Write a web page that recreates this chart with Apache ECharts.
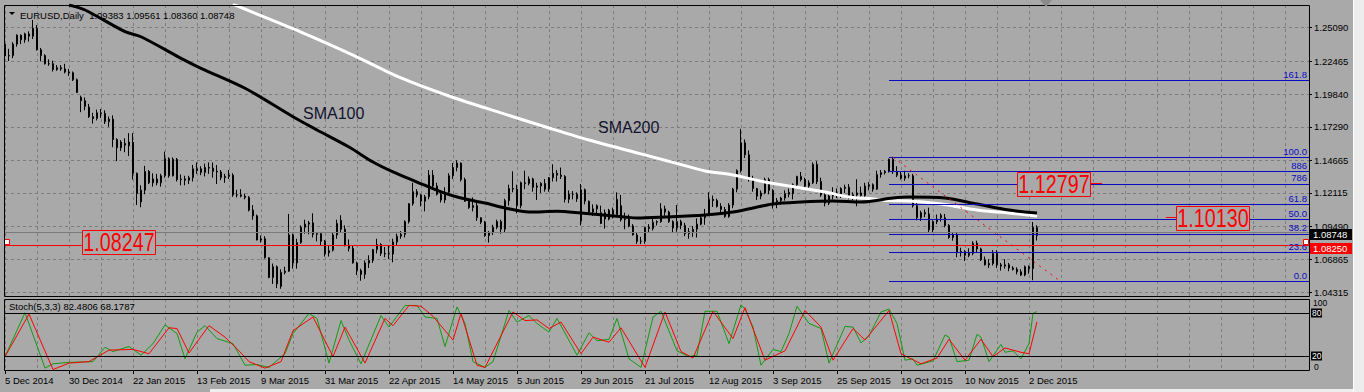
<!DOCTYPE html>
<html><head><meta charset="utf-8">
<script src="https://cdn.jsdelivr.net/npm/echarts@6/dist/echarts.min.js"></script>
<style>html,body{margin:0;padding:0;background:#a9a9a9;overflow:hidden}#c{width:1364px;height:392px}</style>
</head><body><div id="c"></div>
<script>
// ---------------- DATA ----------------
const START_DATE = '2014-12-05';
const HOLIDAYS = ['2014-12-25', '2015-01-01'];
const SLOT_COUNT = 327;            // trading-day slots across the chart (incl. empty right shift)
const MONTHS = ['Jan','Feb','Mar','Apr','May','Jun','Jul','Aug','Sep','Oct','Nov','Dec'];

function buildCategories() {
  const out = [];
  const d = new Date(START_DATE + 'T00:00:00Z');
  while (out.length < SLOT_COUNT) {
    const wd = d.getUTCDay();
    const s = d.toISOString().slice(0, 10);
    if (wd !== 0 && wd !== 6 && HOLIDAYS.indexOf(s) < 0) out.push(s);
    d.setUTCDate(d.getUTCDate() + 1);
  }
  return out;
}
const categories = buildCategories();

const priceTicks = [1.04315, 1.06865, 1.09490, 1.12115, 1.14665, 1.17290, 1.19840, 1.22465, 1.25090];

// daily candles: [open, close, low, high]
const candles = [
[1.2379,1.2288,1.2269,1.2390],[1.2288,1.2290,1.2247,1.2343],[1.2290,1.2380,1.2270,1.2395],[1.2380,1.2450,1.2360,1.2457],
[1.2450,1.2414,1.2380,1.2456],[1.2414,1.2460,1.2390,1.2470],[1.2460,1.2442,1.2400,1.2480],[1.2442,1.2505,1.2420,1.2570],
[1.2505,1.2335,1.2330,1.2530],[1.2335,1.2290,1.2245,1.2350],[1.2290,1.2225,1.2220,1.2300],[1.2225,1.2226,1.2210,1.2260],
[1.2226,1.2180,1.2165,1.2250],[1.2180,1.2195,1.2170,1.2215],[1.2195,1.2185,1.2170,1.2215],[1.2185,1.2160,1.2150,1.2225],
[1.2160,1.2155,1.2130,1.2185],[1.2155,1.2100,1.2090,1.2165],[1.2100,1.2000,1.1995,1.2110],[1.1962,1.1935,1.1845,1.1975],
[1.1935,1.1890,1.1860,1.1960],[1.1885,1.1810,1.1800,1.1910],[1.1810,1.1795,1.1755,1.1840],[1.1795,1.1840,1.1780,1.1865],
[1.1840,1.1835,1.1800,1.1870],[1.1835,1.1770,1.1752,1.1860],[1.1770,1.1790,1.1730,1.1810],[1.1790,1.1630,1.1570,1.1820],
[1.1630,1.1565,1.1460,1.1640],[1.1565,1.1610,1.1540,1.1625],[1.1585,1.1600,1.1530,1.1640],[1.1580,1.1610,1.1500,1.1680],
[1.1610,1.1365,1.1315,1.1680],[1.1365,1.1205,1.1115,1.1370],[1.1140,1.1232,1.1098,1.1270],[1.1232,1.1380,1.1200,1.1423],
[1.1380,1.1290,1.1280,1.1390],[1.1290,1.1320,1.1260,1.1365],[1.1320,1.1290,1.1270,1.1360],[1.1290,1.1345,1.1260,1.1360],
[1.1345,1.1480,1.1330,1.1535],[1.1480,1.1345,1.1330,1.1490],[1.1345,1.1475,1.1340,1.1490],[1.1475,1.1315,1.1300,1.1485],
[1.1315,1.1320,1.1270,1.1355],[1.1320,1.1310,1.1270,1.1345],[1.1310,1.1330,1.1280,1.1345],[1.1330,1.1400,1.1300,1.1430],
[1.1400,1.1385,1.1360,1.1450],[1.1400,1.1372,1.1350,1.1420],[1.1372,1.1410,1.1340,1.1440],[1.1410,1.1405,1.1360,1.1450],
[1.1405,1.1380,1.1330,1.1450],[1.1380,1.1375,1.1280,1.1430],[1.1375,1.1330,1.1310,1.1390],[1.1330,1.1340,1.1290,1.1360],
[1.1340,1.1350,1.1320,1.1390],[1.1350,1.1195,1.1180,1.1365],[1.1195,1.1195,1.1175,1.1235],[1.1195,1.1185,1.1175,1.1240],
[1.1185,1.1175,1.1160,1.1205],[1.1175,1.1075,1.1065,1.1185],[1.1075,1.1030,1.1000,1.1115],[1.1030,1.0840,1.0838,1.1040],
[1.0840,1.0850,1.0820,1.0875],[1.0850,1.0700,1.0695,1.0870],[1.0700,1.0545,1.0540,1.0705],[1.0545,1.0630,1.0495,1.0655],
[1.0630,1.0495,1.0462,1.0640],[1.0475,1.0585,1.0457,1.0610],[1.0585,1.0595,1.0570,1.0630],[1.0595,1.0880,1.0590,1.1045],
[1.0880,1.0660,1.0615,1.0890],[1.0660,1.0820,1.0615,1.0850],[1.0820,1.0940,1.0810,1.0955],[1.0940,1.0965,1.0890,1.1000],
[1.0965,1.0975,1.0885,1.0990],[1.0975,1.0885,1.0860,1.1050],[1.0885,1.0890,1.0830,1.0900],[1.0890,1.0830,1.0800,1.0900],
[1.0830,1.0730,1.0710,1.0840],[1.0755,1.0740,1.0710,1.0800],[1.0760,1.0880,1.0750,1.0900],[1.0880,1.0970,1.0850,1.1000],
[1.0995,1.0925,1.0900,1.1035],[1.0925,1.0800,1.0790,1.0955],[1.0800,1.0775,1.0750,1.0845],[1.0775,1.0660,1.0655,1.0800],
[1.0660,1.0600,1.0565,1.0670],[1.0600,1.0570,1.0520,1.0615],[1.0570,1.0660,1.0535,1.0680],[1.0660,1.0680,1.0620,1.0720],
[1.0680,1.0765,1.0660,1.0770],[1.0765,1.0805,1.0735,1.0850],[1.0805,1.0735,1.0715,1.0815],[1.0735,1.0730,1.0705,1.0785],
[1.0730,1.0730,1.0690,1.0795],[1.0730,1.0825,1.0665,1.0850],[1.0825,1.0870,1.0800,1.0890],[1.0870,1.0885,1.0850,1.0910],
[1.0885,1.0985,1.0860,1.0995],[1.0985,1.1125,1.0970,1.1130],[1.1125,1.1220,1.1110,1.1290],[1.1220,1.1195,1.1175,1.1240],
[1.1195,1.1145,1.1105,1.1200],[1.1145,1.1180,1.1065,1.1195],[1.1180,1.1350,1.1160,1.1390],[1.1350,1.1265,1.1240,1.1390],
[1.1265,1.1200,1.1190,1.1290],[1.1200,1.1155,1.1135,1.1230],[1.1155,1.1215,1.1130,1.1255],[1.1215,1.1345,1.1200,1.1365],
[1.1345,1.1410,1.1320,1.1445],[1.1410,1.1445,1.1380,1.1467],[1.1445,1.1315,1.1300,1.1450],[1.1315,1.1145,1.1140,1.1330],
[1.1145,1.1095,1.1085,1.1160],[1.1095,1.1110,1.1065,1.1175],[1.1110,1.1015,1.0990,1.1140],[1.1015,1.0980,1.0965,1.1020],
[1.0980,1.0875,1.0865,1.0990],[1.0875,1.0900,1.0820,1.0910],[1.0900,1.0940,1.0880,1.0960],[1.0940,1.0985,1.0925,1.1000],
[1.0985,1.0925,1.0890,1.1000],[1.0925,1.1150,1.0900,1.1165],[1.1150,1.1245,1.1110,1.1275],[1.1245,1.1240,1.1215,1.1380],
[1.1240,1.1110,1.1050,1.1275],[1.1110,1.1290,1.1090,1.1300],[1.1290,1.1285,1.1240,1.1385],[1.1285,1.1320,1.1270,1.1340],
[1.1320,1.1255,1.1220,1.1330],[1.1255,1.1265,1.1155,1.1290],[1.1265,1.1285,1.1210,1.1295],[1.1285,1.1240,1.1220,1.1320],
[1.1240,1.1330,1.1220,1.1335],[1.1330,1.1365,1.1300,1.1435],[1.1365,1.1350,1.1300,1.1390],[1.1340,1.1350,1.1320,1.1410],
[1.1340,1.1160,1.1135,1.1350],[1.1160,1.1200,1.1130,1.1230],[1.1200,1.1200,1.1160,1.1225],[1.1200,1.1165,1.1140,1.1215],
[1.0990,1.1235,1.0955,1.1280],[1.1235,1.1145,1.1120,1.1245],[1.1145,1.1060,1.1040,1.1150],[1.1060,1.1085,1.1030,1.1120],
[1.1085,1.1110,1.1050,1.1120],[1.0970,1.1055,1.0965,1.1110],[1.1055,1.1005,1.0930,1.1080],[1.1005,1.1075,1.0995,1.1085],
[1.1075,1.1040,1.1010,1.1095],[1.1040,1.1160,1.1030,1.1215],[1.1110,1.1000,1.0985,1.1195],[1.1000,1.1005,1.0925,1.1055],
[1.1005,1.0950,1.0940,1.1040],[1.0950,1.0880,1.0875,1.0965],[1.0880,1.0830,1.0810,1.0900],[1.0830,1.0830,1.0808,1.0865],
[1.0830,1.0940,1.0810,1.0945],[1.0940,1.0930,1.0900,1.0965],[1.0930,1.0980,1.0915,1.1005],[1.0980,1.0985,1.0955,1.0995],
[1.0985,1.1085,1.0975,1.1130],[1.1085,1.1060,1.1030,1.1110],[1.1060,1.0985,1.0975,1.1070],[1.0985,1.0935,1.0895,1.0995],
[1.0935,1.0985,1.0905,1.1115],[1.0985,1.0955,1.0925,1.1000],[1.0955,1.0890,1.0870,1.0975],[1.0890,1.0905,1.0850,1.0935],
[1.0905,1.0925,1.0865,1.0950],[1.0925,1.0965,1.0860,1.1010],[1.0965,1.1015,1.0955,1.1040],[1.1015,1.1040,1.0960,1.1085],
[1.1040,1.1160,1.1030,1.1215],[1.1160,1.1150,1.1100,1.1190],[1.1150,1.1105,1.1095,1.1165],[1.1105,1.1080,1.1055,1.1130],
[1.1080,1.1025,1.1015,1.1100],[1.1025,1.1115,1.1015,1.1130],[1.1115,1.1240,1.1090,1.1250],[1.1240,1.1385,1.1215,1.1395],
[1.1385,1.1605,1.1370,1.1714],[1.1605,1.1510,1.1485,1.1630],[1.1510,1.1315,1.1300,1.1545],[1.1315,1.1245,1.1220,1.1345],
[1.1245,1.1185,1.1155,1.1250],[1.1185,1.1210,1.1160,1.1230],[1.1210,1.1315,1.1200,1.1330],[1.1315,1.1230,1.1200,1.1330],
[1.1230,1.1120,1.1087,1.1240],[1.1120,1.1150,1.1090,1.1170],[1.1150,1.1170,1.1120,1.1180],[1.1170,1.1205,1.1150,1.1230],
[1.1215,1.1200,1.1175,1.1245],[1.1205,1.1275,1.1160,1.1285],[1.1275,1.1340,1.1250,1.1345],[1.1340,1.1315,1.1300,1.1375],
[1.1315,1.1265,1.1250,1.1330],[1.1265,1.1290,1.1240,1.1310],[1.1290,1.1435,1.1280,1.1450],[1.1435,1.1300,1.1280,1.1460],
[1.1300,1.1195,1.1180,1.1330],[1.1195,1.1130,1.1105,1.1215],[1.1130,1.1185,1.1115,1.1195],[1.1185,1.1210,1.1160,1.1255],
[1.1210,1.1195,1.1170,1.1245],[1.1195,1.1245,1.1170,1.1255],[1.1245,1.1255,1.1210,1.1275],[1.1255,1.1175,1.1160,1.1280],
[1.1175,1.1195,1.1150,1.1215],[1.1195,1.1210,1.1105,1.1318],[1.1210,1.1190,1.1180,1.1260],[1.1190,1.1265,1.1175,1.1290],
[1.1265,1.1275,1.1230,1.1295],[1.1275,1.1240,1.1220,1.1285],[1.1240,1.1355,1.1235,1.1385],[1.1355,1.1370,1.1330,1.1390],
[1.1370,1.1380,1.1355,1.1390],[1.1380,1.1475,1.1370,1.1480],[1.1475,1.1380,1.1360,1.1495],[1.1380,1.1350,1.1335,1.1420],
[1.1350,1.1325,1.1315,1.1375],[1.1325,1.1345,1.1305,1.1385],[1.1345,1.1345,1.1325,1.1365],[1.1345,1.1110,1.1095,1.1360],
[1.1110,1.1015,1.0995,1.1130],[1.1015,1.1055,1.0990,1.1070],[1.1055,1.1045,1.1020,1.1080],[1.1045,1.0920,1.0895,1.1095],
[1.0920,1.0985,1.0895,1.0995],[1.0985,1.1005,1.0965,1.1040],[1.1035,1.1015,1.0985,1.1050],[1.1015,1.0955,1.0940,1.1045],
[1.0955,1.0860,1.0850,1.0965],[1.0860,1.0880,1.0835,1.0895],[1.0880,1.0740,1.0705,1.0895],[1.0740,1.0750,1.0710,1.0780],
[1.0750,1.0720,1.0675,1.0760],[1.0720,1.0735,1.0705,1.0775],[1.0735,1.0815,1.0720,1.0830],[1.0815,1.0770,1.0740,1.0835],
[1.0770,1.0685,1.0675,1.0780],[1.0685,1.0645,1.0640,1.0710],[1.0645,1.0655,1.0620,1.0690],[1.0655,1.0735,1.0640,1.0760],
[1.0735,1.0645,1.0620,1.0760],[1.0645,1.0635,1.0600,1.0660],[1.0635,1.0645,1.0615,1.0690],[1.0645,1.0620,1.0595,1.0660],
[1.0620,1.0610,1.0600,1.0635],[1.0610,1.0590,1.0570,1.0625],[1.0590,1.0565,1.0558,1.0610],[1.0565,1.0630,1.0555,1.0640],
[1.0630,1.0615,1.0575,1.0640],[1.0615,1.0940,1.0524,1.0982],[1.09383,1.08748,1.08360,1.09561]
];

// moving averages: [bar index, price]
const sma100 = [[16,1.2687],[20,1.2648],[30,1.2478],[34,1.2438],[44,1.2268],[49,1.2190],[60,1.2033],[72,1.1809],[78,1.1705],
  [86,1.1571],[92,1.1453],[97,1.1375],[103,1.1296],[109,1.1218],[114,1.1170],[120,1.1131],[125,1.1092],[131,1.1060],[138,1.1066],
  [144,1.1052],[155,1.1021],[158,1.1013],[165,1.1021],[175,1.1037],[182,1.1060],[192,1.1123],[199,1.1139],[207,1.1147],[214,1.1139],
  [222,1.1170],[226,1.1178],[235,1.1170],[243,1.1123],[251,1.1076],[258,1.1052]];
const sma200 = [[57,1.2695],[58,1.2680],[74,1.2475],[87,1.2294],[99,1.2114],[111,1.1972],[124,1.1839],[136,1.1721],[146,1.1626],
  [159,1.1517],[170,1.1425],[175,1.1383],[182,1.1351],[190,1.1296],[199,1.1249],[205,1.1217],[211,1.1178],
  [217,1.1163],[221,1.1150],[226,1.1147],[234,1.1123],[243,1.1076],[251,1.1052],[258,1.1029]];

// Stochastic(5,3,3): [bar index, value]
const stochK = [[0,20],[5,81],[10,4],[12,10],[16,12],[22,13],[25,33],[27,27],[31,34],[34,22],[37,38],[40,64],[43,52],[45,17],[48,54],
  [50,63],[53,45],[57,38],[60,8],[63,9],[66,5],[70,24],[72,52],[76,80],[78,73],[81,11],[84,70],[86,43],[89,10],[94,77],[96,61],
  [100,91],[103,91],[105,75],[108,73],[110,34],[113,89],[115,66],[117,13],[120,5],[122,13],[126,84],[128,68],[131,77],[133,66],
  [136,54],[138,73],[143,22],[146,53],[148,42],[151,44],[153,73],[156,17],[159,5],[162,75],[164,83],[168,28],[171,20],[173,22],
  [175,83],[178,83],[181,38],[182,56],[184,92],[185,86],[187,61],[189,8],[192,30],[194,27],[196,52],[198,90],[201,66],[204,59],
  [206,11],[210,62],[212,61],[214,39],[216,49],[219,82],[221,86],[223,66],[225,15],[227,17],[228,8],[232,14],[235,50],[236,47],
  [238,13],[241,15],[243,51],[244,47],[246,13],[249,37],[250,26],[252,28],[254,17],[256,38],[257,80],[258,82.4806]];
const stochD = [[0,20],[6,79],[12,2],[16,11],[21,13],[26,29],[32,30],[36,24],[41,60],[43,59],[46,25],[51,63],[55,47],[58,31],[61,13],
  [65,4],[69,13],[72,56],[77,75],[82,20],[85,61],[90,11],[95,73],[97,63],[101,91],[104,90],[107,76],[112,43],[114,80],[118,8],
  [120,5],[127,82],[130,70],[133,71],[136,59],[139,68],[144,24],[147,47],[151,40],[154,60],[160,5],[165,82],[169,27],[172,18],
  [177,83],[182,45],[185,88],[190,15],[195,28],[200,84],[204,61],[207,15],[212,59],[215,43],[221,84],[224,24],[229,10],[233,18],
  [236,44],[240,15],[244,44],[247,20],[250,32],[254,26],[256,24],[258,68.1787]];

// Fibonacci retracement drawn from the October high
const fibNames  = ['0.0', '23.6', '38.2', '50.0', '61.8', '786', '886', '100.0', '161.8'];
const fibPrices = [1.0515, 1.0745, 1.0888, 1.1003, 1.1118, 1.1281, 1.1379, 1.1490, 1.2093];
const FIB_START = 221;
const fibTrend = [[222, 1.1490], [264, 1.0512]];

const hLinePrice = 1.08247;
const hLineAxisText = '1.08250';
const bidPrice = 1.08748;
const priceBoxes = [
  { text: '1.08247', at: 28.4, price: 1.08247 },
  { text: '1.12797', at: 262.3, price: 1.12797, stub: [271.5, 274.3] },
  { text: '1.10130', at: 301.9, price: 1.10130, stub: [290.2, 292.8] }
];
const smaLabels = [
  { text: 'SMA100', at: 74.5, price: 1.1831 },
  { text: 'SMA200', at: 148.25, price: 1.1728 }
];
const SYMBOL = 'EURUSD,Daily';
const STOCH_NAME = 'Stoch(5,3,3)';

// ---------------- STYLE ----------------
const BG = '#a9a9a9', GRID = '#7c7c7c', BULL = '#3cb44a', BEAR = '#dc143c', FIB = '#0b0bc0';
const FONT = '"Liberation Sans", Arial, sans-serif';
const Y_MIN = 1.03922, Y_MAX = 1.26874;
const LAST_BAR = candles.length - 1;

function fmtDate(s) {
  const [y, m, d] = s.split('-');
  return (+d) + ' ' + MONTHS[+m - 1] + ' ' + y;
}
const every8 = (i) => i % 8 === 0;
const labelIdx = (i) => i % 16 === 0 && i <= LAST_BAR;

const chart = echarts.init(document.getElementById('c'), null, { renderer: 'svg', width: 1364, height: 392 });

const option = {
  backgroundColor: BG,
  animation: false,
  grid: [
    { left: 5, top: 5, width: 1304, height: 292 },
    { left: 5, top: 299, width: 1304, height: 72 }
  ],
  xAxis: [
    { type: 'category', gridIndex: 0, data: categories, boundaryGap: false,
      axisLine: { show: false }, axisTick: { show: false }, axisLabel: { show: false },
      splitLine: { show: true, interval: every8, lineStyle: { color: GRID, type: [3, 3], width: 1 } } },
    { type: 'category', gridIndex: 1, data: categories, boundaryGap: false,
      axisLine: { show: false },
      axisTick: { show: true, interval: labelIdx, length: 3, lineStyle: { color: '#000' } },
      axisLabel: { show: true, interval: labelIdx, formatter: fmtDate, align: 'left', margin: 4,
        fontSize: 9.5, fontFamily: FONT, color: '#000' },
      splitLine: { show: true, interval: every8, lineStyle: { color: GRID, type: [3, 3], width: 1 } } }
  ],
  yAxis: [
    { type: 'value', gridIndex: 0, position: 'right', min: Y_MIN, max: Y_MAX,
      axisLine: { show: false },
      axisTick: { show: true, length: 3, customValues: priceTicks, lineStyle: { color: '#000' } },
      axisLabel: { show: true, customValues: priceTicks, formatter: (v) => v.toFixed(5), margin: 5,
        fontSize: 9.5, fontFamily: FONT, color: '#000' },
      splitLine: { show: true, lineStyle: { color: GRID, type: [3, 3], width: 1 } } },
    { type: 'value', gridIndex: 1, position: 'right', min: 0, max: 100,
      axisLine: { show: false }, axisTick: { show: false }, axisLabel: { show: false }, splitLine: { show: false } }
  ],
  series: [
    { // objects behind the candles
      type: 'line', xAxisIndex: 0, yAxisIndex: 0, data: [], z: 1, silent: true,
      markLine: {
        silent: true, symbol: ['none', 'none'], animation: false,
        data: [
          ...fibPrices.map((p, k) => [
            { coord: [FIB_START, p], name: fibNames[k],
              lineStyle: { color: FIB, width: 1, type: 'solid' },
              label: { show: true, position: 'insideEndTop', formatter: '{b}', color: FIB, fontSize: 9.5, fontFamily: FONT, distance: [2, 1] } },
            { coord: [SLOT_COUNT - 1, p] }
          ]),
          [ { coord: fibTrend[0], lineStyle: { color: '#ff0000', width: 1, type: [2, 5] }, label: { show: false } },
            { coord: fibTrend[1] } ],
          { yAxis: bidPrice, lineStyle: { color: '#7a7a7a', width: 1, type: 'solid' }, label: { show: false } },
          { yAxis: hLinePrice, lineStyle: { color: '#ff0000', width: 1, type: 'solid' }, label: { show: false } }
        ]
      }
    },
    {
      type: 'candlestick', xAxisIndex: 0, yAxisIndex: 0, data: candles, barWidth: 2, z: 2,
      itemStyle: { color: BULL, color0: BEAR, borderColor: '#000', borderColor0: '#000', borderColorDoji: '#000', borderWidth: 1 }
    },
    {
      type: 'line', xAxisIndex: 0, yAxisIndex: 0, data: sma200, symbol: 'none', smooth: 0.3, z: 3,
      lineStyle: { color: '#ffffff', width: 3 }
    },
    {
      type: 'line', xAxisIndex: 0, yAxisIndex: 0, data: sma100, symbol: 'none', smooth: 0.3, z: 4,
      lineStyle: { color: '#000000', width: 3 }
    },
    {
      type: 'line', xAxisIndex: 1, yAxisIndex: 1, data: stochK, symbol: 'none', z: 3,
      lineStyle: { color: '#109c10', width: 1 },
      markLine: { silent: true, symbol: ['none', 'none'], label: { show: false },
        lineStyle: { color: '#000', width: 1, type: 'solid' },
        data: [{ yAxis: 80 }, { yAxis: 20 }] }
    },
    {
      type: 'line', xAxisIndex: 1, yAxisIndex: 1, data: stochD, symbol: 'none', z: 4,
      lineStyle: { color: '#ff0000', width: 1 }
    }
  ]
};
chart.setOption(option);

// ---------------- annotations positioned from data ----------------
const x0 = chart.convertToPixel({ gridIndex: 0 }, [0, Y_MIN])[0];
const step = chart.convertToPixel({ gridIndex: 0 }, [1, Y_MIN])[0] - x0;
function px(i, price, g) {
  const b = Math.floor(i);
  const pt = chart.convertToPixel({ gridIndex: g || 0 }, [b, price]);
  return [pt[0] + (i - b) * step, pt[1]];
}
const crisp = (v) => Math.round(v) + 0.5;
const G = [];

// window chrome
G.push({ type: 'rect', shape: { x: 1353, y: 0, width: 11, height: 392 }, style: { fill: '#ededed' }, z: 60 });
G.push({ type: 'line', shape: { x1: 1353.5, y1: 0, x2: 1353.5, y2: 392 }, style: { stroke: '#ffffff', lineWidth: 1 }, z: 61 });
G.push({ type: 'rect', shape: { x: 210, y: 389, width: 1143, height: 3 }, style: { fill: '#eeeeee' }, z: 60 });
G.push({ type: 'polygon', shape: { points: [[1040, 0], [1052, 0], [1046, 7]] }, style: { fill: '#8a8a8a' }, z: 60 });

// frames
G.push({ type: 'rect', shape: { x: 4.5, y: 5.5, width: 1305, height: 291 }, style: { fill: 'none', stroke: '#000', lineWidth: 1 }, z: 50 });
G.push({ type: 'rect', shape: { x: 4.5, y: 299.5, width: 1305, height: 71 }, style: { fill: 'none', stroke: '#000', lineWidth: 1 }, z: 50 });

// header
const last = candles[LAST_BAR];
G.push({ type: 'polygon', shape: { points: [[9, 12], [15, 12], [12, 15]] }, style: { fill: '#000' }, z: 50 });
G.push({ type: 'text', x: 20, y: 15, z: 50, style: {
  text: SYMBOL + '  ' + [last[0], last[3], last[2], last[1]].map(v => v.toFixed(5)).join(' '),
  font: '9.5px ' + FONT, fill: '#000', align: 'left', verticalAlign: 'middle' } });
// stochastic caption
G.push({ type: 'text', x: 9, y: 306, z: 50, style: {
  text: STOCH_NAME + ' ' + stochK[stochK.length - 1][1].toFixed(4) + ' ' + stochD[stochD.length - 1][1].toFixed(4),
  font: '9.5px ' + FONT, fill: '#000', align: 'left', verticalAlign: 'middle' } });

// SMA labels
smaLabels.forEach(s => {
  const p = px(s.at, s.price);
  G.push({ type: 'text', x: p[0], y: p[1], z: 45, style: { text: s.text, font: '16px ' + FONT, fill: '#12122e', align: 'left', verticalAlign: 'middle' } });
});

// red price boxes with stubs
priceBoxes.forEach(b => {
  const c = px(b.at, b.price);
  const cx = Math.round(c[0]), cy = Math.round(c[1]);
  if (b.stub) {
    const a = px(b.stub[0], b.price), e = px(b.stub[1], b.price);
    G.push({ type: 'line', shape: { x1: a[0], y1: crisp(a[1]) - 1, x2: e[0], y2: crisp(a[1]) - 1 }, style: { stroke: '#ff0000', lineWidth: 1 }, z: 44 });
  }
  G.push({ type: 'rect', shape: { x: cx - 37 + 0.5, y: cy - 12 + 0.5, width: 73, height: 24 }, style: { fill: BG, stroke: '#ff0000', lineWidth: 1 }, z: 45 });
  G.push({ type: 'text', x: cx, y: cy + 1, scaleX: 0.79, z: 46, style: { text: b.text, font: '25px ' + FONT, fill: '#ff0000', align: 'center', verticalAlign: 'middle' } });
});

// selection squares at the ends of the red line
[0.6, 325.25].forEach(i => {
  const p = px(i, hLinePrice);
  G.push({ type: 'rect', shape: { x: Math.round(p[0]) - 2.5, y: Math.round(p[1]) - 2.5, width: 5, height: 5 }, style: { fill: '#fff', stroke: '#ff0000', lineWidth: 1 }, z: 46 });
});

// right-axis price boxes
const bidY = px(0, bidPrice)[1], redY = px(0, hLinePrice)[1];
G.push({ type: 'rect', shape: { x: 1310, y: Math.round(bidY) - 7, width: 42, height: 11 }, style: { fill: '#000' }, z: 55 });
G.push({ type: 'text', x: 1313, y: Math.round(bidY) - 1.5, z: 56, style: { text: bidPrice.toFixed(5), font: '9.5px ' + FONT, fill: '#fff', align: 'left', verticalAlign: 'middle' } });
G.push({ type: 'rect', shape: { x: 1310, y: Math.round(redY) + 1, width: 42, height: 11 }, style: { fill: '#ff0000' }, z: 55 });
G.push({ type: 'text', x: 1313, y: Math.round(redY) + 6.5, z: 56, style: { text: hLineAxisText, font: '9.5px ' + FONT, fill: '#fff', align: 'left', verticalAlign: 'middle' } });

// stochastic scale labels
const sy = (v) => chart.convertToPixel({ gridIndex: 1 }, [0, v])[1];
G.push({ type: 'text', x: 1313, y: sy(100) + 3.5, z: 56, style: { text: '100', font: '8.5px ' + FONT, fill: '#000', align: 'left', verticalAlign: 'middle' } });
G.push({ type: 'text', x: 1314, y: sy(0) - 4, z: 56, style: { text: '0', font: '8.5px ' + FONT, fill: '#000', align: 'left', verticalAlign: 'middle' } });
[[80, 0], [20, -1]].forEach(([v, off]) => {
  const y = Math.round(sy(v)) + off;
  G.push({ type: 'rect', shape: { x: 1311, y: y - 4.5, width: 11, height: 9 }, style: { fill: '#000' }, z: 55 });
  G.push({ type: 'text', x: 1312, y: y, z: 56, style: { text: String(v), font: '8.5px ' + FONT, fill: '#fff', align: 'left', verticalAlign: 'middle' } });
});

chart.setOption({ graphic: { elements: G } });
</script></body></html>
